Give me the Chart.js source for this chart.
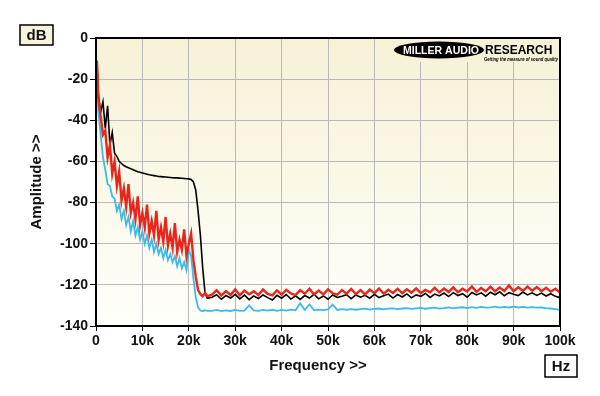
<!DOCTYPE html>
<html>
<head>
<meta charset="utf-8">
<script src="https://cdn.jsdelivr.net/npm/chart.js@4/dist/chart.umd.min.js"></script>
<style>
    html, body { margin: 0; padding: 0; background: #ffffff; }
</style>
</head>
<body>
<canvas id="espectro" width="600" height="396"></canvas>
<script>
// frequencia em kHz
var freqK = [0.2, 0.5, 1, 1.5, 2, 2.5, 3, 3.5, 4, 4.5, 5, 5.5, 6, 6.5, 7, 7.5, 8, 8.5, 9, 9.5,
    10, 10.5, 11, 11.5, 12, 12.5, 13, 13.5, 14, 14.5, 15, 15.5, 16, 16.5, 17, 17.5, 18, 18.5, 19, 19.5,
    20, 20.5, 21, 21.5, 22, 22.5, 23, 23.5, 24,
    25, 26, 27, 28, 29, 30, 31, 32, 33, 34, 35, 36, 37, 38, 39, 40, 41, 42, 43, 44,
    45, 46, 47, 48, 49, 50, 51, 52, 53, 54, 55, 56, 57, 58, 59, 60, 61, 62, 63, 64,
    65, 66, 67, 68, 69, 70, 71, 72, 73, 74, 75, 76, 77, 78, 79, 80, 81, 82, 83, 84,
    85, 86, 87, 88, 89, 90, 91, 92, 93, 94, 95, 96, 97, 98, 99, 100];

var pretoDb = [-12, -27, -36, -31, -44, -33, -52, -46, -56, -57.5, -60, -61, -62, -62.6, -63.1, -63.6, -64, -64.5, -65, -65.3,
    -65.6, -65.9, -66.2, -66.5, -66.7, -66.9, -67.1, -67.3, -67.4, -67.5, -67.6, -67.7, -67.8, -67.9, -68, -68, -68.1, -68.2, -68.3, -68.4,
    -68.5, -68.8, -70, -74, -84, -96, -112, -124, -126.5,
    -126, -124.8, -127, -125.2, -126.4, -124.6, -126.8, -125, -127.2, -125.4,
    -126.6, -124.9, -126.2, -127.4, -125.1, -126.5, -124.7, -126.9, -125.3, -127.1,
    -125.2, -126.4, -124.6, -126.8, -125.4, -127, -124.9, -126.1, -125.5, -124.8,
    -126.7, -124.9, -126, -125.1, -126.5, -124.6, -126.2, -125.3, -124.5, -126.4,
    -124.7, -125.9, -124.4, -126.3, -124.9, -125.6, -124.2, -126.1, -124.5, -125.4,
    -124, -125.7, -123.8, -125.2, -124.3, -126, -123.7, -124.9, -123.9, -125.5,
    -123.6, -124.8, -123.4, -125.3, -123.8, -124.6, -125.2, -123.5, -124.9, -123.9,
    -125.1, -124, -125.4, -124.3, -125.6, -126.2];

var vermelhoDb = [-11, -29, -38, -47, -45, -58, -52, -66, -60, -72, -65, -79, -73, -82, -71, -85, -80, -88, -77, -91,
    -85, -92, -81, -95, -89, -96, -84, -98, -92, -99, -87, -101, -95, -102, -90, -104, -98, -103, -93, -106,
    -100, -95, -108, -116, -122.5, -124.5, -125.5, -124, -125.5,
    -124.8, -122.6, -125.2, -123, -124.9, -122.2, -125, -122.8, -124.6, -123.1,
    -125, -122.3, -124.4, -125.1, -122.7, -124.8, -122.4, -124.2, -125, -122.6,
    -124.3, -121.9, -124.7, -122.8, -124.6, -122.2, -124.1, -124.8, -122.5, -124.3,
    -122, -124.5, -122.6, -124.6, -122.3, -124, -121.8, -124.3, -122.4, -123.9,
    -121.9, -124.1, -122.2, -123.8, -121.7, -124, -122.5, -123.6, -121.4, -123.7,
    -121.8, -123.5, -121.2, -123.6, -121.9, -123.2, -120.8, -123.4, -121.5, -123.1,
    -120.9, -123.2, -121.3, -123, -120.3, -123.1, -121.2, -122.9, -120.8, -122.8,
    -121.1, -123.1, -121.4, -123.3, -121.9, -123.8];

var azulDb = [-20, -35, -47, -58, -64, -71, -72, -77, -78, -84, -81, -88, -84, -91, -87, -94, -89, -96, -92, -98,
    -94, -100, -96, -102, -98, -104, -100, -105, -102, -107, -103, -108, -105, -109, -106, -111, -107, -112, -109, -113,
    -103, -106, -117, -126, -131, -132.5, -132.8, -132.3, -132.6,
    -132.6, -132.2, -132.8, -132.4, -132.7, -132.2, -132.6, -132.5, -130, -132.4,
    -132.6, -132.2, -132.5, -132.1, -132.6, -132.2, -132.5, -132, -132.4, -129,
    -132.2, -129.5, -132.4, -132, -132.3, -131.9, -129.6, -132.2, -131.8, -132.1,
    -131.8, -132.1, -131.8, -131.6, -132, -131.7, -131.5, -131.9, -131.6, -131.4,
    -131.8, -131.5, -131.3, -131.7, -131.4, -131.2, -131.6, -131.3, -131.1, -131.5,
    -131.3, -131, -131.4, -131.1, -130.9, -131.3, -130.8, -131.2, -130.7, -131.1,
    -130.9, -130.6, -131.1, -130.7, -131, -130.6, -131, -130.7, -131.1, -130.8,
    -131.1, -131, -131.3, -131.5, -131.8, -132.2];

var xTicks = [0, 10, 20, 30, 40, 50, 60, 70, 80, 90, 100];
var xTickLabels = ["0", "10k", "20k", "30k", "40k", "50k", "60k", "70k", "80k", "90k", "100k"];
var yTicks = [0, -20, -40, -60, -80, -100, -120, -140];

var fonte = "'Liberation Sans', Arial, sans-serif";

function pontos(valores) {
    var lista = [];
    for (var i = 0; i < freqK.length; i++) {
        lista.push({ x: freqK[i], y: valores[i] });
    }
    return lista;
}

// fundo, moldura, caixas e logotipo
var decoracao = {
    id: "decoracao",
    beforeDraw: function (chart) {
        var ctx = chart.ctx;
        var a = chart.chartArea;
        var grad = ctx.createLinearGradient(0, a.top, 0, a.bottom);
        grad.addColorStop(0, "#f6f1d6");
        grad.addColorStop(1, "#fffffb");
        ctx.save();
        ctx.fillStyle = grad;
        ctx.fillRect(a.left, a.top, a.right - a.left, a.bottom - a.top);
        ctx.restore();
    },
    afterDraw: function (chart) {
        var ctx = chart.ctx;
        var a = chart.chartArea;
        ctx.save();

        // moldura
        ctx.strokeStyle = "#000";
        ctx.lineWidth = 2;
        ctx.strokeRect(a.left, a.top, a.right - a.left, a.bottom - a.top);

        // caixa dB
        ctx.fillStyle = "#f7f3dc";
        ctx.fillRect(20, 25, 33, 20);
        ctx.lineWidth = 1.5;
        ctx.strokeRect(20, 25, 33, 20);
        ctx.fillStyle = "#111";
        ctx.font = "bold 15px " + fonte;
        ctx.textAlign = "center";
        ctx.textBaseline = "middle";
        ctx.fillText("dB", 36.5, 35.5);

        // caixa Hz
        ctx.fillStyle = "#ffffff";
        ctx.fillRect(545, 355, 32, 22);
        ctx.strokeRect(545, 355, 32, 22);
        ctx.fillStyle = "#111";
        ctx.fillText("Hz", 561, 366.5);

        // titulo do eixo x
        ctx.fillText("Frequency >>", 318, 366);

        // logotipo
        ctx.fillStyle = "#f6f1d7";
        ctx.fillRect(388, 39, 171, 23);
        ctx.fillStyle = "#000";
        ctx.beginPath();
        ctx.ellipse(439, 50, 45, 8.5, 0, 0, Math.PI * 2);
        ctx.fill();
        ctx.textAlign = "left";
        ctx.fillStyle = "#fff";
        ctx.font = "bold 11px " + fonte;
        ctx.fillText("MILLER AUDIO", 403, 50.5, 76);
        ctx.fillStyle = "#000";
        ctx.font = "bold 12px " + fonte;
        ctx.fillText("RESEARCH", 485, 50.5, 75);
        ctx.font = "italic bold 5px " + fonte;
        ctx.fillText("Getting the measure of sound quality", 484, 59.5, 74);

        ctx.restore();
    }
};

var ctx = document.getElementById("espectro");

var grafico = new Chart(ctx, {
    type: "line",
    data: {
        datasets: [{
            label: "vermelho",
            data: pontos(vermelhoDb),
            borderColor: "#e8261c",
            borderWidth: 2.4,
            pointRadius: 0,
            tension: 0
        }, {
            label: "preto",
            data: pontos(pretoDb),
            borderColor: "#000000",
            borderWidth: 1.6,
            pointRadius: 0,
            tension: 0
        }, {
            label: "azul",
            data: pontos(azulDb),
            borderColor: "#3bbbe9",
            borderWidth: 1.8,
            pointRadius: 0,
            tension: 0
        }]
    },
    options: {
        responsive: false,
        animation: false,
        devicePixelRatio: 1,
        layout: {
            padding: { left: 0, right: 40, top: 38, bottom: 0 }
        },
        plugins: {
            legend: { display: false },
            tooltip: { enabled: false }
        },
        scales: {
            x: {
                type: "linear",
                min: 0,
                max: 100,
                afterBuildTicks: function (scale) {
                    scale.ticks = xTicks.map(function (v) { return { value: v }; });
                },
                afterFit: function (scale) { scale.height = 70; },
                ticks: {
                    autoSkip: false,
                    maxRotation: 0,
                    padding: 2,
                    color: "#111",
                    font: { family: fonte, size: 14, weight: "bold" },
                    callback: function (v, i) { return xTickLabels[i]; }
                },
                grid: { color: "#b9b9b9", lineWidth: 1, tickLength: 5, tickColor: "#000" },
                border: { color: "#000", width: 2 }
            },
            y: {
                min: -140,
                max: 0,
                afterBuildTicks: function (scale) {
                    scale.ticks = yTicks.map(function (v) { return { value: v }; });
                },
                afterFit: function (scale) { scale.width = 96; },
                ticks: {
                    padding: 2,
                    color: "#111",
                    font: { family: fonte, size: 14, weight: "bold" }
                },
                grid: { color: "#b9b9b9", lineWidth: 1, tickLength: 6, tickColor: "#000" },
                border: { color: "#000", width: 2 },
                title: {
                    display: true,
                    text: "Amplitude >>",
                    color: "#111",
                    font: { family: fonte, size: 15, weight: "bold" },
                    padding: { top: 28, bottom: 0 }
                }
            }
        }
    },
    plugins: [decoracao]
});
</script>
</body>
</html>
